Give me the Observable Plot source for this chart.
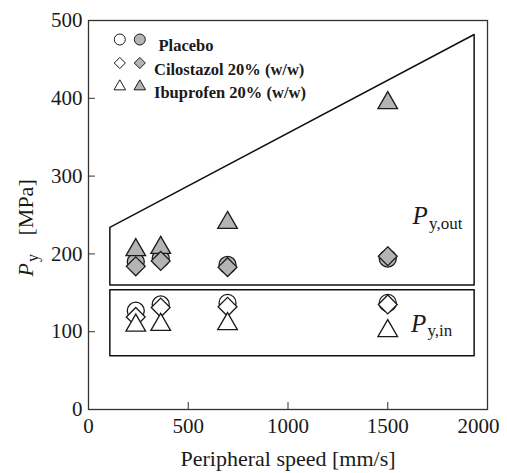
<!DOCTYPE html>
<html><head><meta charset="utf-8">
<script src="https://cdn.jsdelivr.net/npm/d3@7"></script>
<script src="https://cdn.jsdelivr.net/npm/@observablehq/plot@0.6"></script>
<style>
body{margin:0;background:#fff}
#chart svg{display:block}
#chart svg, #chart svg text{font-family:"Liberation Serif","Times New Roman",serif !important}
</style>
</head><body><div id="chart"></div>
<script>
// ---- data ----
const speeds = [237, 362, 697, 1500];
const placeboIn = [127, 135, 137, 137];
const placeboOut = [190, 194, 186, 194];
const cilostazolIn = [119, 131, 132, 135];
const cilostazolOut = [184, 191, 183, 197];
const ibuprofenIn = [108, 109, 110, 101];
const ibuprofenOut = [205, 208, 240, 394];
const xTicks = [0, 500, 1000, 1500, 2000];
const yTicks = [0, 100, 200, 300, 400, 500];
const legendLabels = ["Placebo", "Cilostazol 20% (w/w)", "Ibuprofen 20% (w/w)"];
const legendSymbols = ["circle", "diamond2", "triangle"];
const outRegionX = [107, 1933, 1933, 107, 107];
const outRegionY = [234, 482, 160, 160, 234];
const inRegionX = [107, 1933, 1933, 107, 107];
const inRegionY = [154, 154, 69, 69, 154];

// ---- tables ----
const serif = "'Liberation Serif', 'Times New Roman', serif";
const gray = "#b4b4b4";
const ink = "#1a1a1a";
const series = [
  {symbol: "circle", r: 8.5, inV: placeboIn, outV: placeboOut},
  {symbol: "diamond2", r: 8.5, inV: cilostazolIn, outV: cilostazolOut},
  {symbol: "triangle", r: 7.3, inV: ibuprofenIn, outV: ibuprofenOut}
];
const rows = (vals) => speeds.map((x, i) => ({x, y: vals[i]}));
const poly = (X, Y) => X.map((x, i) => ({x, y: Y[i]}));
const legendR = [5.5, 5, 4.3];
const fmt = d => String(d);

const outOrder = [0, 2, 1];
const inOrder = [0, 1, 2];

const legendMarks = legendLabels.flatMap((label, i) => {
  const dy = 19 + i * 23.5;
  return [
    Plot.dot([label], {frameAnchor: "top-left", dx: 31.3, dy, symbol: legendSymbols[i], r: legendR[i], fill: "white", stroke: ink, strokeWidth: 1}),
    Plot.dot([label], {frameAnchor: "top-left", dx: 51.3, dy, symbol: legendSymbols[i], r: legendR[i], fill: gray, stroke: ink, strokeWidth: 1}),
    Plot.text([label], {frameAnchor: "top-left", dx: i === 0 ? 70 : 65.5, dy, text: d => d, textAnchor: "start", fontWeight: "bold", fontSize: 16.5, fontFamily: serif, fill: ink})
  ];
});

const chart = Plot.plot({
  width: 507,
  height: 473,
  marginLeft: 88,
  marginRight: 20,
  marginTop: 20,
  marginBottom: 64,
  style: {fontFamily: serif, fontSize: "21px", color: ink, background: "white"},
  x: {domain: [0, 2000]},
  y: {domain: [0, 500]},
  marks: [
    Plot.frame({stroke: "#333", strokeWidth: 1.3}),
    Plot.axisX({ticks: xTicks.slice(1, -1), tickSize: -7, fill: "none", stroke: "#333", label: null}),
    Plot.axisY({ticks: yTicks.slice(1, -1), tickSize: -7, fill: "none", stroke: "#333", label: null}),
    Plot.axisX({ticks: xTicks.slice(0, -1), tickSize: 0, tickPadding: 9, tickFormat: fmt, fontSize: 21, fontFamily: serif, label: null}),
    Plot.axisX({ticks: xTicks.slice(-1), tickSize: 0, tickPadding: 9, tickFormat: fmt, dx: -9, fontSize: 21, fontFamily: serif, label: null}),
    Plot.axisY({ticks: yTicks, tickSize: 0, tickPadding: 6, tickFormat: fmt, fontSize: 21, fontFamily: serif, label: null}),
    Plot.line(poly(outRegionX, outRegionY), {x: "x", y: "y", stroke: "#111", strokeWidth: 1.5}),
    Plot.line(poly(inRegionX, inRegionY), {x: "x", y: "y", stroke: "#111", strokeWidth: 1.5}),
    ...outOrder.map(k => Plot.dot(rows(series[k].outV), {x: "x", y: "y", symbol: series[k].symbol, r: series[k].r, fill: gray, stroke: ink, strokeWidth: 1.3})),
    ...inOrder.map(k => Plot.dot(rows(series[k].inV), {x: "x", y: "y", symbol: series[k].symbol, r: series[k].r, fill: "white", stroke: ink, strokeWidth: 1.3})),
    // region labels
    Plot.text(["P"], {x: 1624, y: 239, textAnchor: "start", lineAnchor: "bottom", fontStyle: "italic", fontSize: 25, fontFamily: serif, fill: ink}),
    Plot.text(["y,out"], {x: 1624, y: 239, dx: 16.5, dy: 5, textAnchor: "start", lineAnchor: "bottom", fontSize: 17, fontFamily: serif, fill: ink}),
    Plot.text(["P"], {x: 1616, y: 99, textAnchor: "start", lineAnchor: "bottom", fontStyle: "italic", fontSize: 25, fontFamily: serif, fill: ink}),
    Plot.text(["y,in"], {x: 1616, y: 99, dx: 16.5, dy: 4, textAnchor: "start", lineAnchor: "bottom", fontSize: 17, fontFamily: serif, fill: ink}),
    // axis labels
    Plot.text(["Peripheral speed [mm/s]"], {frameAnchor: "bottom", dy: 56, lineAnchor: "bottom", fontSize: 22, fontFamily: serif, fill: ink}),
    Plot.text(["P"], {frameAnchor: "left", dx: -56, dy: 61.5, rotate: -90, textAnchor: "start", lineAnchor: "bottom", fontStyle: "italic", fontSize: 22, fontFamily: serif, fill: ink}),
    Plot.text(["y"], {frameAnchor: "left", dx: -51, dy: 47, rotate: -90, textAnchor: "start", lineAnchor: "bottom", fontSize: 16, fontFamily: serif, fill: ink}),
    Plot.text(["[MPa]"], {frameAnchor: "left", dx: -56, dy: 20.5, rotate: -90, textAnchor: "start", lineAnchor: "bottom", fontSize: 22, fontFamily: serif, fill: ink}),
    ...legendMarks
  ]
});
document.getElementById("chart").appendChild(chart);
</script>
</body></html>
